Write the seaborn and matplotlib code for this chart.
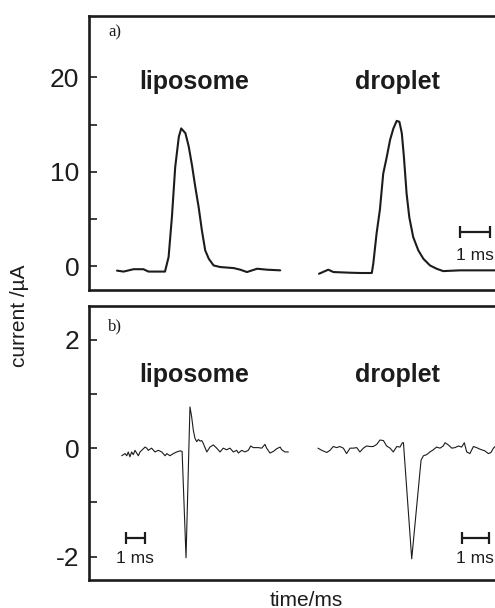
import numpy as np
import pandas as pd
import matplotlib
matplotlib.use("Agg")
import matplotlib.pyplot as plt
import matplotlib.transforms as mtransforms
import seaborn as sns

# ---- data (time in ms, current in uA) ----
# a) amperometric peaks
lipo_a_t = [0.0, 0.22, 0.55, 0.88, 1.05, 1.6, 1.72, 1.83, 1.94, 2.06, 2.14, 2.28, 2.39,
            2.5, 2.61, 2.72, 2.83, 2.94, 3.06, 3.22, 3.44, 3.89, 4.11, 4.33, 4.67, 5.0, 5.44]
lipo_a_i = [-0.45, -0.55, -0.3, -0.3, -0.55, -0.55, 0.99, 5.2, 10.5, 13.7, 14.6, 14.1, 12.7,
            10.7, 8.4, 6.3, 3.8, 1.7, 0.8, 0.1, -0.07, -0.18, -0.35, -0.6, -0.25, -0.35, -0.42]

drop_a_t = [0.0, 0.31, 0.48, 1.03, 1.37, 1.76, 1.81, 1.92, 2.03, 2.14, 2.26, 2.37, 2.48,
            2.59, 2.68, 2.76, 2.83, 2.92, 3.01, 3.14, 3.31, 3.48, 3.70, 3.92, 4.14, 4.70,
            5.26, 5.97]
drop_a_i = [-0.78, -0.35, -0.6, -0.67, -0.7, -0.7, 0.3, 3.5, 6.0, 9.8, 11.6, 13.4, 14.6,
            15.4, 15.3, 14.1, 11.6, 7.7, 5.2, 3.1, 1.7, 0.8, 0.1, -0.25, -0.5, -0.42,
            -0.42, -0.42]

# b) derivative-like traces
lipo_b_t = [0.0, 0.18, 0.27, 0.35, 0.44, 0.53, 0.62, 0.71, 0.80, 0.89, 0.98, 1.07, 1.25,
            1.34, 1.42, 1.60, 1.78, 1.96, 2.14, 2.32, 2.41, 2.58, 2.76, 2.94, 3.12, 3.23,
            3.44, 3.65, 3.74, 3.83, 3.92, 4.01, 4.10, 4.19, 4.28, 4.36, 4.55, 4.72, 4.90,
            5.08, 5.26, 5.43, 5.61, 5.79, 5.97, 6.15, 6.24, 6.42, 6.59, 6.77, 6.90, 7.04,
            7.30, 7.49, 7.66, 7.75, 7.93, 8.11, 8.29, 8.47, 8.56, 8.73, 8.91]
lipo_b_i = [-0.14, -0.10, -0.14, -0.07, -0.16, -0.07, -0.12, -0.04, -0.09, -0.14, -0.07,
            -0.04, 0.02, 0.0, -0.04, 0.0, -0.07, -0.04, -0.07, -0.14, -0.10, -0.14, -0.10,
            -0.07, -0.05, -0.06, -2.02, 0.76, 0.58, 0.33, 0.18, 0.12, 0.16, 0.13, 0.14,
            0.09, -0.07, 0.02, 0.06, 0.0, -0.07, 0.0, -0.03, 0.0, -0.07, -0.04, -0.09,
            -0.04, -0.07, -0.04, 0.04, 0.01, 0.01, 0.0, 0.07, 0.0, -0.09, -0.06, -0.01,
            0.02, -0.03, -0.07, -0.07]

drop_b_t = [0.0, 0.14, 0.33, 0.45, 0.57, 0.70, 0.82, 0.95, 1.07, 1.20, 1.32, 1.45, 1.57,
            1.70, 1.82, 1.95, 2.07, 2.20, 2.32, 2.45, 2.57, 2.70, 2.82, 2.95, 3.07, 3.16,
            3.20, 3.51, 3.86, 3.95, 4.07, 4.19, 4.32, 4.44, 4.57, 4.69, 4.76, 4.88, 5.01,
            5.13, 5.26, 5.38, 5.48, 5.57, 5.69, 5.82, 5.94, 6.07, 6.25, 6.38, 6.48, 6.57,
            6.63, 6.75]
drop_b_i = [0.0, -0.04, -0.08, -0.04, 0.03, 0.01, 0.03, 0.0, -0.10, 0.0, 0.0, 0.01, -0.07,
            0.0, 0.04, 0.03, 0.03, 0.07, 0.15, 0.14, 0.04, 0.0, -0.07, 0.03, 0.02, 0.10,
            0.10, -2.04, -0.22, -0.14, -0.12, -0.07, -0.03, 0.02, 0.0, 0.04, 0.10, 0.06,
            0.0, 0.01, 0.04, 0.02, 0.10, -0.07, -0.10, 0.03, 0.01, -0.02, -0.05, -0.10,
            -0.08, 0.0, 0.03, 0.0]

# ---- layout: the x axis is not quantitative, each trace has its own time scale ----
# (start position in px, px per ms) -- scale bars show 1 ms for each trace
X_LIM = (89, 498)
traces_a = [(lipo_a_t, lipo_a_i, 117, 30.0), (drop_a_t, drop_a_i, 319, 30.0)]
traces_b = [(lipo_b_t, lipo_b_i, 121.7, 18.7), (drop_b_t, drop_b_i, 318, 26.7)]

INK = "#1c1c1c"
sns.set_style("ticks")
plt.rcParams["font.family"] = ["Liberation Sans", "DejaVu Sans"]

fig = plt.figure(figsize=(4.95, 6.08), dpi=100)
ax_a = fig.add_axes([89 / 495, 1 - 290 / 608, 409 / 495, 274 / 608])
ax_b = fig.add_axes([89 / 495, 1 - 580 / 608, 409 / 495, 274 / 608])


def draw_traces(ax, traces, lw):
    for t, i, x0, scale in traces:
        df = pd.DataFrame({"x": x0 + np.asarray(t) * scale, "i": i})
        sns.lineplot(data=df, x="x", y="i", ax=ax, color=INK, lw=lw,
                     sort=False, estimator=None)


def scale_bar(ax, x0, width, y_bar, y_txt):
    ax.plot([x0, x0 + width], [y_bar, y_bar], color=INK, lw=1.6,
            marker="|", markersize=9, markeredgewidth=1.6)
    ax.text(x0 + width / 2, y_txt, "1 ms", ha="center", va="center",
            fontsize=12.5, color=INK)


def style_axes(ax, ylim, major, minor, label):
    ax.set_xlim(*X_LIM)
    ax.set_ylim(*ylim)
    ax.set_yticks(major)
    ax.set_yticks(minor, minor=True)
    ax.set_yticklabels([str(v) for v in major])
    ax.set_xticks([])
    ax.set_xlabel("")
    ax.set_ylabel("")
    ax.tick_params(axis="y", which="both", direction="in", length=6, width=1.2,
                   color=INK, labelsize=19, labelcolor=INK, pad=7)
    for side in ["left", "right", "top", "bottom"]:
        ax.spines[side].set_visible(True)
        ax.spines[side].set_linewidth(1.9)
        ax.spines[side].set_color(INK)
    ax.text(0.047, 0.94 if label == "a)" else 0.925, label, transform=ax.transAxes,
            fontsize=12, family="Liberation Serif", ha="left", va="center", color=INK)


# a) panel
draw_traces(ax_a, traces_a, 1.5)
style_axes(ax_a, (-2.5, 26.5), [0, 10, 20], [5, 15], "a)")
scale_bar(ax_a, 460, 30.0, 3.6, 1.2)

# b) panel
draw_traces(ax_b, traces_b, 0.8)
style_axes(ax_b, (-2.43, 2.62), [-2, 0, 2], [-1, 1], "b)")
scale_bar(ax_b, 126, 18.7, -1.66, -2.03)
scale_bar(ax_b, 462, 26.7, -1.66, -2.03)

for ax, yfrac in [(ax_a, 0.759), (ax_b, 0.748)]:
    trans = mtransforms.blended_transform_factory(ax.transData, ax.transAxes)
    ax.text(194, yfrac, "liposome", transform=trans, ha="center", va="center",
            fontsize=18, fontweight="bold", color=INK)
    ax.text(397, yfrac, "droplet", transform=trans, ha="center", va="center",
            fontsize=18, fontweight="bold", color=INK)

fig.text(20 / 495, 1 - 316 / 608, "current /\u00b5A", rotation=90, ha="center",
         va="center", fontsize=15, color=INK)
fig.text(306 / 495, 1 - 600 / 608, "time/ms", ha="center", va="center",
         fontsize=15, color=INK)

fig.savefig("out.png", dpi=100)
